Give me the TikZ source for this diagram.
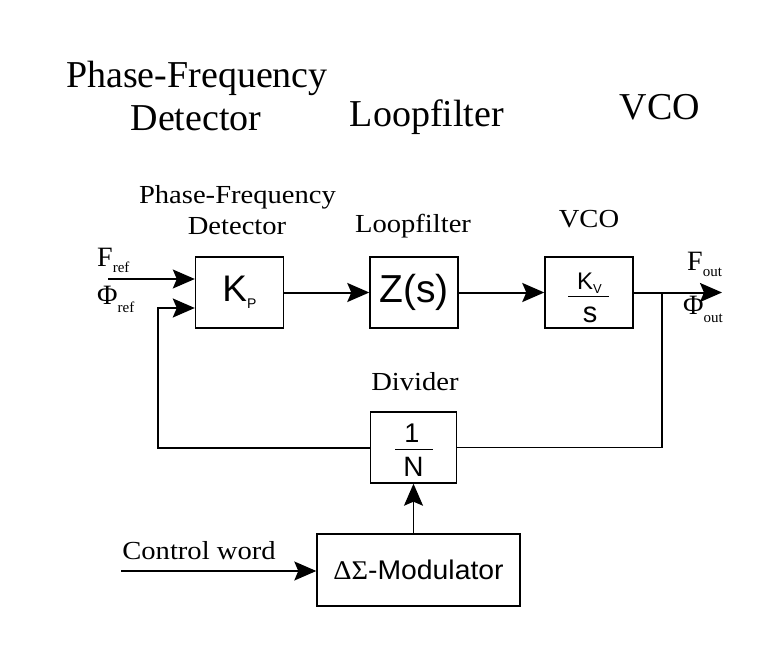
\documentclass[tikz,border=0pt]{standalone}
\usepackage{fontspec}
\usepackage{graphicx}
\setmainfont{Liberation Serif}
\setsansfont{Liberation Sans}
\usetikzlibrary{arrows.meta}
\newcommand\wider[1]{\scalebox{1.1}[1]{#1}}
\begin{document}
\begin{tikzpicture}[x=1pt,y=-1pt,
  blk/.style={draw, line width=1.4pt, minimum width=88pt, minimum height=71pt, inner sep=0pt, font=\sffamily},
  big/.style={inner sep=0pt, anchor=base, font=\fontsize{38}{40}\selectfont},
  lab/.style={inner sep=0pt, anchor=base, font=\fontsize{26}{28}\selectfont},
  sig/.style={inner sep=0pt, anchor=base west, font=\fontsize{28}{28}\selectfont},
  arr/.style={-{Stealth[length=22pt,width=19pt,inset=4pt]}},
  thk/.style={line width=2pt},
  thn/.style={line width=1.3pt},
  ]
\useasboundingbox (0,0) rectangle (780,650);
\fill[white] (0,0) rectangle (780,650);
% top labels
\node[big] (t1) at (197,88) {Phase-Frequency};
\node[big] (t2) at (196,131) {Detector};
\node[big] (t3) at (427,127) {Loopfilter};
\node[big] (t4) at (660,120) {VCO};
% lower labels
\node[lab] (l1) at (237.5,204) {\wider{Phase-Frequency}};
\node[lab] (l2) at (237,235) {\wider{Detector}};
\node[lab] (l3) at (413,233) {\wider{Loopfilter}};
\node[lab] (l4) at (589,228) {\wider{VCO}};
\node[lab] (l5) at (415,390) {\wider{Divider}};
\node[lab] (l6) at (199,559) {\wider{Control word}};
% blocks
\node[blk] (kp) at (239.5,292.5) {\fontsize{37}{37}\selectfont K\raisebox{-7pt}{\fontsize{14}{14}\selectfont P}};
\node[blk] (zs) at (414,292.5) {\fontsize{39}{39}\selectfont Z(s)};
\node[blk] (vco) at (589,292.5) {};
\node[inner sep=0pt, anchor=base, font=\sffamily\fontsize{24}{24}\selectfont] (kvn) at (589.5,289) {K\raisebox{-4pt}{\fontsize{13}{13}\selectfont V}};
\draw[line width=1pt] (568,296) -- (609,296);
\node[inner sep=0pt, anchor=base, font=\sffamily\fontsize{29}{29}\selectfont] (sden) at (590,322) {s};
\node[blk, minimum width=86pt] (div) at (413.5,447.5) {};
\node[inner sep=0pt, anchor=base, font=\sffamily\fontsize{27}{27}\selectfont] (one) at (412,442) {1};
\draw[line width=1pt] (395,449) -- (433,449);
\node[inner sep=0pt, anchor=base, font=\sffamily\fontsize{28}{28}\selectfont] (nn) at (413.5,476) {N};
\node[blk, minimum width=203pt, minimum height=72pt] (mod) at (418.5,570) {\scalebox{1.05}[1]{\fontsize{27}{27}\selectfont\rmfamily ΔΣ\sffamily -Modulator}};
% signal labels
\node[sig] (fref) at (97,266) {F\raisebox{-6pt}{\fontsize{15}{15}\selectfont ref}};
\node[sig] (phref) at (97,305) {Φ\raisebox{-8pt}{\fontsize{15}{15}\selectfont ref}};
\node[sig] (fout) at (687,270) {F\raisebox{-6pt}{\fontsize{15}{15}\selectfont out}};
\node[sig] (phout) at (683,314) {Φ\raisebox{-8pt}{\fontsize{15}{15}\selectfont out}};
% connectors
\coordinate (fin) at (108,279);
\draw[thn, arr] (fin) -- (fin -| kp.west);
\coordinate (fb) at (158,308);
\draw[thk, arr] (div.west) -| (fb) -- (fb -| kp.west);
\draw[thk, arr] (kp) -- (zs);
\draw[thk, arr] (zs) -- (vco);
\coordinate (out) at (722,292.5);
\draw[thk, arr] (vco.east) -- (out);
\coordinate (br) at (662,292.5);
\draw[thn] (br) |- (div.east);
\draw[thn, arr] (div.south |- mod.north) -- (div.south);
\coordinate (cw) at (121,571);
\draw[thn, arr] (cw) -- (cw -| mod.west);
\end{tikzpicture}
\end{document}
